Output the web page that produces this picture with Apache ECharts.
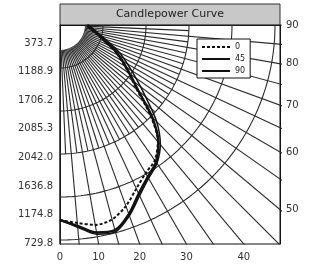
<!DOCTYPE html>
<html>
<head>
<meta charset="utf-8">
<script src="https://cdn.jsdelivr.net/npm/echarts@6/dist/echarts.min.js"></script>
<style>
  html, body { margin: 0; padding: 0; background: #fff; }
  #chart { width: 316px; height: 267px; }
</style>
</head>
<body>
<div id="chart"></div>
<script>
// candela readings per vertical angle (0 = straight down, 90 = horizontal)
const angles = [0, 5, 10, 15, 20, 25, 30, 35, 40, 45, 50, 55, 60, 65, 70, 75, 80, 85, 90]
const c0 = [2268, 2310, 2360, 2340, 2240, 2100, 1990, 1920, 1770, 1488, 1163, 977, 826, 698, 558, 465, 384, 337, 314]
const c45 = [2268, 2360, 2470, 2490, 2360, 2190, 2060, 1965, 1815, 1590, 1300, 1080, 905, 765, 615, 505, 425, 372, 330]
const c90 = [2268, 2345, 2450, 2470, 2340, 2165, 2040, 1945, 1780, 1515, 1190, 990, 840, 710, 560, 468, 398, 350, 316]

const rings = [500, 1000, 1500, 2000, 2500]
const bottomTicks = [0, 10, 20, 30, 40]
const rightTicks = [90, 80, 70, 60, 50]
const leftLabels = ['373.7', '1188.9', '1706.2', '2085.3', '2042.0', '1636.8', '1174.8', '729.8']

const GRID_W = 220
const GRID_H = 219
const pxPerUnit = 215 / 2500
const xMax = GRID_W / pxPerUnit
const yMax = GRID_H / pxPerUnit
const FONT = 'DejaVu Sans, sans-serif'

const rad = (d) => d * Math.PI / 180
const toXY = (deg, r) => [r * Math.sin(rad(deg)), r * Math.cos(rad(deg))]

const gridStyle = { color: '#2b2b2b', width: 1.1 }

const gridSeries = []
// rays, the in-between ones stop part way out
for (let a = 0; a <= 90; a += 2.5) {
  const major = a % 5 === 0
  gridSeries.push({
    type: 'line', silent: true, symbol: 'none', z: 1,
    lineStyle: gridStyle,
    data: [toXY(a, 290), toXY(a, major ? 4000 : 1500)]
  })
}
// arcs
rings.forEach(r => {
  const pts = []
  for (let a = 0; a <= 90; a += 1) pts.push(toXY(a, r))
  gridSeries.push({ type: 'line', silent: true, symbol: 'none', z: 1, lineStyle: gridStyle, data: pts })
})

const curve = (vals) => angles.map((a, i) => toXY(a, vals[i]))

const leftPos = leftLabels.map((_, i) => (18 + i * 28.6) / pxPerUnit)

const chart = echarts.init(document.getElementById('chart'))
chart.setOption({
  animation: false,
  textStyle: { fontFamily: FONT },
  graphic: [{
    type: 'group',
    children: [
      { type: 'rect', shape: { x: 60, y: 4, width: 220, height: 21 }, style: { fill: '#c8c8c8', stroke: '#333', lineWidth: 1 } },
      { type: 'text', x: 170, y: 14.5, style: { text: 'Candlepower Curve', fill: '#222', fontSize: 11, align: 'center', verticalAlign: 'middle', fontFamily: FONT } }
    ]
  }],
  grid: { left: 60, top: 25, width: GRID_W, height: GRID_H, show: true, borderColor: '#111', borderWidth: 1 },
  legend: {
    data: ['0', '45', '90'],
    orient: 'vertical',
    left: 197, top: 39,
    itemWidth: 28, itemHeight: 8, itemGap: 4,
    padding: [4, 5, 3, 4],
    backgroundColor: '#fff', borderColor: '#111', borderWidth: 1,
    itemStyle: { opacity: 0 },
    textStyle: { fontSize: 8, color: '#222' }
  },
  xAxis: {
    type: 'value', min: 0, max: xMax,
    axisLine: { show: true, lineStyle: { color: '#111' } },
    axisTick: { show: false },
    splitLine: { show: false },
    axisLabel: {
      customValues: bottomTicks.map(t => yMax * Math.tan(rad(t))),
      formatter: (v) => String(Math.round(Math.atan(v / yMax) * 180 / Math.PI)),
      fontSize: 10, color: '#333', margin: 8
    }
  },
  yAxis: [{
    type: 'value', min: 0, max: yMax, inverse: true,
    axisLine: { show: true, lineStyle: { color: '#111' } },
    axisTick: { show: false },
    splitLine: { show: false },
    axisLabel: {
      customValues: leftPos,
      formatter: (v) => {
        const i = leftPos.findIndex(p => Math.abs(p - v) < 1)
        return i >= 0 ? leftLabels[i] : ''
      },
      fontSize: 10, color: '#333', margin: 7
    }
  }, {
    type: 'value', min: 0, max: yMax, inverse: true, position: 'right',
    axisLine: { show: true, lineStyle: { color: '#111' } },
    axisTick: { show: false },
    splitLine: { show: false },
    axisLabel: {
      customValues: rightTicks.map(t => t === 90 ? 0 : xMax / Math.tan(rad(t))),
      formatter: (v) => String(v < 1 ? 90 : Math.round(Math.atan(xMax / v) * 180 / Math.PI)),
      fontSize: 10, color: '#333', margin: 6
    }
  }],
  series: gridSeries.concat([
    { name: '0', type: 'line', symbol: 'none', smooth: 0.3, z: 5, data: curve(c0), itemStyle: { color: '#111' }, lineStyle: { color: '#111', width: 2, type: [3, 2] } },
    { name: '45', type: 'line', symbol: 'none', smooth: 0.3, z: 5, data: curve(c45), itemStyle: { color: '#111' }, lineStyle: { color: '#111', width: 1.5 } },
    { name: '90', type: 'line', symbol: 'none', smooth: 0.3, z: 5, data: curve(c90), itemStyle: { color: '#111' }, lineStyle: { color: '#111', width: 2.5 } }
  ])
})
</script>
</body>
</html>
